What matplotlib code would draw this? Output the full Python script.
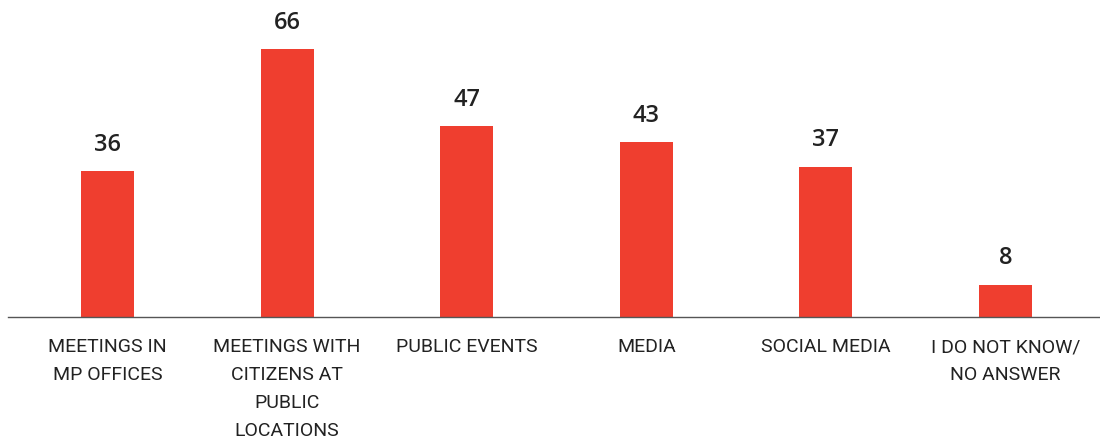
import numpy as np
import matplotlib.pyplot as plt

categories = ['MEETINGS IN\nMP OFFICES', 'MEETINGS WITH\nCITIZENS AT\nPUBLIC\nLOCATIONS',
              'PUBLIC EVENTS', 'MEDIA', 'SOCIAL MEDIA', 'I DO NOT KNOW/\nNO ANSWER']
values = [36, 66, 47, 43, 37, 8]

bar_color = '#EF3E2F'
text_color = '#222222'

fig = plt.figure(figsize=(11, 4.39), dpi=100)
ax = fig.add_axes([0.0073, 0.2756, 0.9927, 0.7244])

x = np.arange(len(values))
ax.bar(x, values, width=0.295, color=bar_color, zorder=2)

for xi, v in zip(x, values):
    ax.annotate(str(v), (xi, v), xytext=(0, 11), textcoords='offset points',
                ha='center', va='bottom', fontsize=17, fontweight='semibold',
                family='Open Sans', color=text_color)

ax.set_xlim(-0.554, 5.526)
ax.set_ylim(0, 78.3)

ax.set_xticks(x)
ax.set_xticklabels(categories, family='Roboto', fontsize=14, color=text_color,
                   linespacing=1.72, ha='center', multialignment='center')
ax.tick_params(axis='x', length=0, pad=14.5)
ax.set_yticks([])

for side in ['top', 'right', 'left']:
    ax.spines[side].set_visible(False)
ax.spines['bottom'].set_color('#555555')
ax.spines['bottom'].set_linewidth(1.0)

fig.savefig('out.png', dpi=100, facecolor='white')
